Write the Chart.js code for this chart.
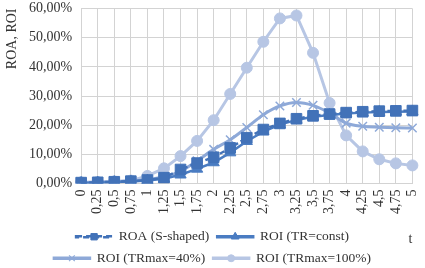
<!DOCTYPE html>
<html>
<head>
<meta charset="utf-8">
<script src="https://cdn.jsdelivr.net/npm/chart.js@4/dist/chart.umd.min.js"></script>
<style>
  html, body { margin: 0; padding: 0; background: #fff; overflow: hidden; }
  #wrap { width: 425px; height: 268px; position: relative; }
</style>
</head>
<body>
<div id="wrap"><canvas id="c"></canvas></div>
<script>
// ---- data (values in %) ----
const categories = ['0','0,25','0,5','0,75','1','1,25','1,5','1,75','2','2,25','2,5','2,75','3','3,25','3,5','3,75','4','4,25','4,5','4,75','5'];
const roaSShaped   = [0.3, 0.4, 0.6, 0.8, 1.2, 2.0, 4.8, 7.0, 9.0, 12.2, 15.7, 18.5, 20.6, 22.2, 23.2, 23.8, 24.3, 24.6, 24.8, 24.9, 25.0];
const roiTRconst   = [0.2, 0.3, 0.5, 0.7, 1.0, 1.6, 3.0, 5.0, 7.2, 10.6, 14.5, 17.8, 20.2, 21.8, 22.9, 23.5, 24.0, 24.3, 24.5, 24.6, 24.7];
const roiTRmax40   = [0.3, 0.4, 0.6, 0.9, 1.3, 2.3, 4.2, 7.8, 11.7, 15.0, 19.2, 23.6, 26.6, 27.8, 26.8, 24.2, 20.7, 19.6, 19.3, 19.1, 19.0];
const roiTRmax100  = [0.4, 0.5, 0.7, 1.0, 2.6, 5.2, 9.4, 14.6, 21.7, 30.7, 39.7, 48.6, 56.6, 57.6, 44.8, 27.6, 16.5, 11.0, 8.3, 6.9, 6.2];
const seriesNames  = ['ROA (S-shaped)', 'ROI (TR=const)', 'ROI (TRmax=40%)', 'ROI (TRmax=100%)'];
const yTicks = { min: 0, max: 60, step: 10 };
const xTitle = 't';
const yTitle = 'ROA, ROI';

const FONT = "'Liberation Serif', 'Times New Roman', serif";
const TXT = '#333333';
const GRID = '#d3d3d3';
const NONE = 'rgba(0,0,0,0)';

const legendMarkers = [
  { pointStyle: 'rect', radius: 4.5, borderWidth: 1 },
  { pointStyle: 'triangle', radius: 4.5, borderWidth: 1 },
  { pointStyle: 'crossRot', radius: 4, borderWidth: 1.2 },
  { pointStyle: 'circle', radius: 3.5, borderWidth: 1 }
];

const legendMarkerPlugin = {
  id: 'legendMarkers',
  afterLayout(chart) {
    const lg = chart.legend;
    if (lg) { lg.top += 7; lg.bottom += 7; }
  },
  afterDraw(chart) {
    const lg = chart.legend;
    if (!lg || !lg.legendHitBoxes) return;
    const ctx = chart.ctx;
    const bw = lg.options.labels.boxWidth;
    lg.legendHitBoxes.forEach((hb, i) => {
      const ds = chart.data.datasets[i];
      const m = legendMarkers[i];
      ctx.save();
      ctx.setLineDash([]);
      ctx.fillStyle = ds.pointBackgroundColor;
      ctx.strokeStyle = ds.pointBorderColor;
      ctx.lineWidth = m.borderWidth;
      Chart.helpers.drawPoint(ctx, { pointStyle: m.pointStyle, radius: m.radius, rotation: 0, borderWidth: m.borderWidth }, hb.left + bw / 2, hb.top + hb.height / 2);
      ctx.restore();
    });
  }
};

const colors = ['#4272b8', '#4a7cc2', '#8ea9d8', '#b7c6e4'];

new Chart(document.getElementById('c'), {
  type: 'line',
  data: {
    labels: categories,
    datasets: [
      { label: seriesNames[0], data: roaSShaped, borderColor: colors[0], backgroundColor: colors[0],
        pointBackgroundColor: colors[0], pointBorderColor: colors[0], borderWidth: 2.5, borderDash: [5, 3],
        pointStyle: 'rect', pointRadius: 7.5, pointBorderWidth: 1, tension: 0 },
      { label: seriesNames[1], data: roiTRconst, borderColor: colors[1], backgroundColor: colors[1],
        pointBackgroundColor: colors[1], pointBorderColor: colors[1], borderWidth: 2.5,
        pointStyle: 'triangle', pointRadius: 6.5, pointBorderWidth: 1, tension: 0 },
      { label: seriesNames[2], data: roiTRmax40, borderColor: colors[2], backgroundColor: colors[2],
        pointBackgroundColor: colors[2], pointBorderColor: colors[2], borderWidth: 3,
        pointStyle: 'crossRot', pointRadius: 6, pointBorderWidth: 1.5, cubicInterpolationMode: 'monotone' },
      { label: seriesNames[3], data: roiTRmax100, borderColor: colors[3], backgroundColor: colors[3],
        pointBackgroundColor: colors[3], pointBorderColor: colors[3], borderWidth: 3,
        pointStyle: 'circle', pointRadius: 5.5, pointBorderWidth: 1, tension: 0 }
    ]
  },
  options: {
    responsive: true,
    maintainAspectRatio: false,
    animation: false,
    layout: { padding: { left: 0, right: 0, top: 0, bottom: 0 } },
    plugins: {
      tooltip: { enabled: false },
      legend: {
        position: 'bottom',
        labels: {
          font: { family: FONT, size: 13.5 },
          color: TXT,
          boxWidth: 36,
          boxHeight: 1,
          padding: 8,
          generateLabels(chart) {
            const items = Chart.defaults.plugins.legend.labels.generateLabels(chart);
            items.forEach((it, i) => {
              const ds = chart.data.datasets[i];
              it.fillStyle = NONE;
              it.strokeStyle = ds.borderColor;
              it.lineWidth = 2.5;
              it.lineDash = i === 0 ? [6, 4] : [];
              it.lineCap = 'butt';
            });
            return items;
          }
        }
      }
    },
    scales: {
      x: {
        type: 'category',
        offset: false,
        grid: { color: GRID, drawTicks: true, tickLength: 6, tickColor: NONE, offset: false },
        border: { color: GRID },
        ticks: { font: { family: FONT, size: 14, lineHeight: 0.9 }, color: TXT, minRotation: 90, maxRotation: 90, autoSkip: false, padding: 0 },
        title: { display: true, text: xTitle, align: 'end', font: { family: FONT, size: 14 }, color: TXT,
                 padding: { top: 16.6, bottom: -32.4 } }
      },
      y: {
        min: yTicks.min,
        max: yTicks.max,
        grid: { color: GRID, drawTicks: true, tickLength: 9, tickColor: NONE },
        border: { color: GRID },
        ticks: {
          stepSize: yTicks.step,
          padding: 0,
          font: { family: FONT, size: 14 },
          color: TXT,
          callback: v => v.toFixed(2).replace('.', ',') + '%'
        },
        title: { display: true, text: yTitle, align: 'end', font: { family: FONT, size: 14 }, color: TXT,
                 padding: { top: 3.6, bottom: 8.6 } }
      }
    }
  },
  plugins: [legendMarkerPlugin]
});
</script>
</body>
</html>
